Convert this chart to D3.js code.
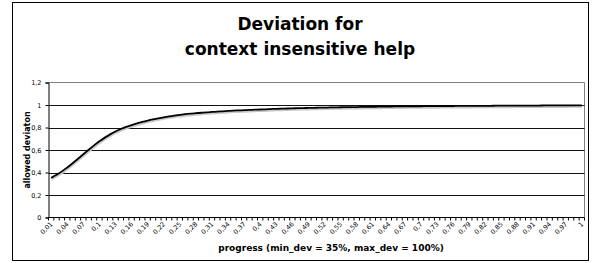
<!DOCTYPE html>
<html>
<head>
<meta charset="utf-8">
<script src="https://cdn.jsdelivr.net/npm/d3@7"></script>
<style>
  body { margin: 0; background: #fff; }
  svg { font-family: "DejaVu Sans", Verdana, sans-serif; }
</style>
</head>
<body>
<div id="chart"></div>
<script>
// progress values 0,01 .. 1
var progress = [
  0.01,0.02,0.03,0.04,0.05,0.06,0.07,0.08,0.09,0.10,
  0.11,0.12,0.13,0.14,0.15,0.16,0.17,0.18,0.19,0.20,
  0.21,0.22,0.23,0.24,0.25,0.26,0.27,0.28,0.29,0.30,
  0.31,0.32,0.33,0.34,0.35,0.36,0.37,0.38,0.39,0.40,
  0.41,0.42,0.43,0.44,0.45,0.46,0.47,0.48,0.49,0.50,
  0.51,0.52,0.53,0.54,0.55,0.56,0.57,0.58,0.59,0.60,
  0.61,0.62,0.63,0.64,0.65,0.66,0.67,0.68,0.69,0.70,
  0.71,0.72,0.73,0.74,0.75,0.76,0.77,0.78,0.79,0.80,
  0.81,0.82,0.83,0.84,0.85,0.86,0.87,0.88,0.89,0.90,
  0.91,0.92,0.93,0.94,0.95,0.96,0.97,0.98,0.99,1.00
];
// allowed deviation
var deviation = [
  0.352,0.380,0.410,0.445,0.482,0.522,0.562,0.602,0.641,0.677,
  0.710,0.739,0.765,0.787,0.806,0.822,0.836,0.849,0.861,0.872,
  0.882,0.891,0.899,0.906,0.912,0.918,0.923,0.927,0.931,0.935,
  0.938,0.941,0.944,0.947,0.950,0.952,0.954,0.956,0.958,0.960,
  0.962,0.964,0.966,0.967,0.969,0.970,0.972,0.973,0.974,0.975,
  0.976,0.977,0.978,0.979,0.980,0.981,0.982,0.982,0.983,0.984,
  0.984,0.985,0.986,0.986,0.987,0.987,0.988,0.988,0.989,0.989,
  0.990,0.990,0.990,0.991,0.991,0.991,0.992,0.992,0.992,0.993,
  0.993,0.993,0.993,0.994,0.994,0.994,0.994,0.995,0.995,0.995,
  0.995,0.995,0.996,0.996,0.996,0.996,0.996,0.997,0.997,0.997
];
var yTicks = [0, 0.2, 0.4, 0.6, 0.8, 1, 1.2];
var titleLines = ["Deviation for", "context insensitive help"];
var xTitle = "progress (min_dev = 35%, max_dev = 100%)";
var yTitle = "allowed deviaton";

var width = 597, height = 263;
var plotLeft = 48.5, plotRight = 584.5, plotTop = 82.5, plotBottom = 217.5;

var fmt = function (v) { return String(+v.toFixed(2)).replace(".", ","); };

var svg = d3.select("#chart").append("svg")
    .attr("width", width)
    .attr("height", height);

// chart frame
svg.append("rect")
    .attr("x", 12.5).attr("y", 2.5)
    .attr("width", 576).attr("height", 258)
    .attr("fill", "#fff")
    .attr("stroke", "#000");

var title = svg.append("text")
    .attr("text-anchor", "middle")
    .attr("font-weight", "bold")
    .attr("font-size", 17);
title.selectAll("tspan")
    .data(titleLines).enter().append("tspan")
    .attr("x", 300)
    .attr("y", function (d, i) { return 30 + i * 25; })
    .text(function (d) { return d; });

var x = d3.scaleBand()
    .domain(progress)
    .range([plotLeft, plotRight]);

var y = d3.scaleLinear()
    .domain([0, 1.2])
    .range([plotBottom, plotTop]);

// plot border (top and right)
svg.append("path")
    .attr("d", "M" + plotLeft + "," + plotTop + "H" + plotRight + "V" + plotBottom)
    .attr("fill", "none")
    .attr("stroke", "#808080");

// gridlines
svg.append("g")
    .selectAll("line")
    .data(yTicks.filter(function (d) { return d > 0 && d < 1.2; }))
    .enter().append("line")
    .attr("x1", plotLeft).attr("x2", plotRight)
    .attr("y1", function (d) { return Math.round(y(d)) + 0.5; })
    .attr("y2", function (d) { return Math.round(y(d)) + 0.5; })
    .attr("stroke", "#111");

// y axis
var yAxis = svg.append("g")
    .attr("transform", "translate(" + plotLeft + ",0)")
    .call(d3.axisLeft(y).tickValues(yTicks).tickSize(3).tickFormat(fmt));
yAxis.select(".domain").attr("stroke", "#000");
yAxis.selectAll("text")
    .attr("font-size", 6.5)
    .attr("font-family", "DejaVu Sans, sans-serif")
    .attr("fill", "#000")
    .attr("dx", -1);

// x axis: a tick at each category boundary
var xAxisG = svg.append("g").attr("transform", "translate(0," + plotBottom + ")");
xAxisG.append("line")
    .attr("x1", plotLeft).attr("x2", plotRight)
    .attr("stroke", "#000");
xAxisG.selectAll("line.tick")
    .data(progress.concat(["end"]))
    .enter().append("line")
    .attr("class", "tick")
    .attr("x1", function (d, i) { return i < progress.length ? x(d) : plotRight; })
    .attr("x2", function (d, i) { return i < progress.length ? x(d) : plotRight; })
    .attr("y1", 0).attr("y2", 3)
    .attr("stroke", "#000");

xAxisG.selectAll("text")
    .data(progress.filter(function (d, i) { return i % 3 === 0; }))
    .enter().append("text")
    .attr("transform", function (d) {
        return "translate(" + (x(d) + x.bandwidth() / 2 + 2) + ",7) rotate(-45)";
    })
    .attr("text-anchor", "end")
    .attr("font-size", 6.5)
    .attr("fill", "#000")
    .text(fmt);

// axis titles
svg.append("text")
    .attr("x", 331).attr("y", 251)
    .attr("text-anchor", "middle")
    .attr("font-weight", "bold")
    .attr("font-size", 9)
    .text(xTitle);

svg.append("text")
    .attr("transform", "translate(30,150) rotate(-90)")
    .attr("text-anchor", "middle")
    .attr("font-weight", "bold")
    .attr("font-size", 8)
    .text(yTitle);

// curve with a soft shadow
var pts = progress.map(function (p, i) { return { p: p, v: deviation[i] }; });
var line = d3.line()
    .x(function (d) { return x(d.p) + x.bandwidth() / 2; })
    .y(function (d) { return y(d.v); })
    .curve(d3.curveMonotoneX);

svg.append("path")
    .attr("d", line(pts))
    .attr("transform", "translate(0.5,1.5)")
    .attr("fill", "none")
    .attr("stroke", "#c8c8c8")
    .attr("stroke-width", 2);

svg.append("path")
    .attr("d", line(pts))
    .attr("fill", "none")
    .attr("stroke", "#000")
    .attr("stroke-width", 1.8);
</script>
</body>
</html>
